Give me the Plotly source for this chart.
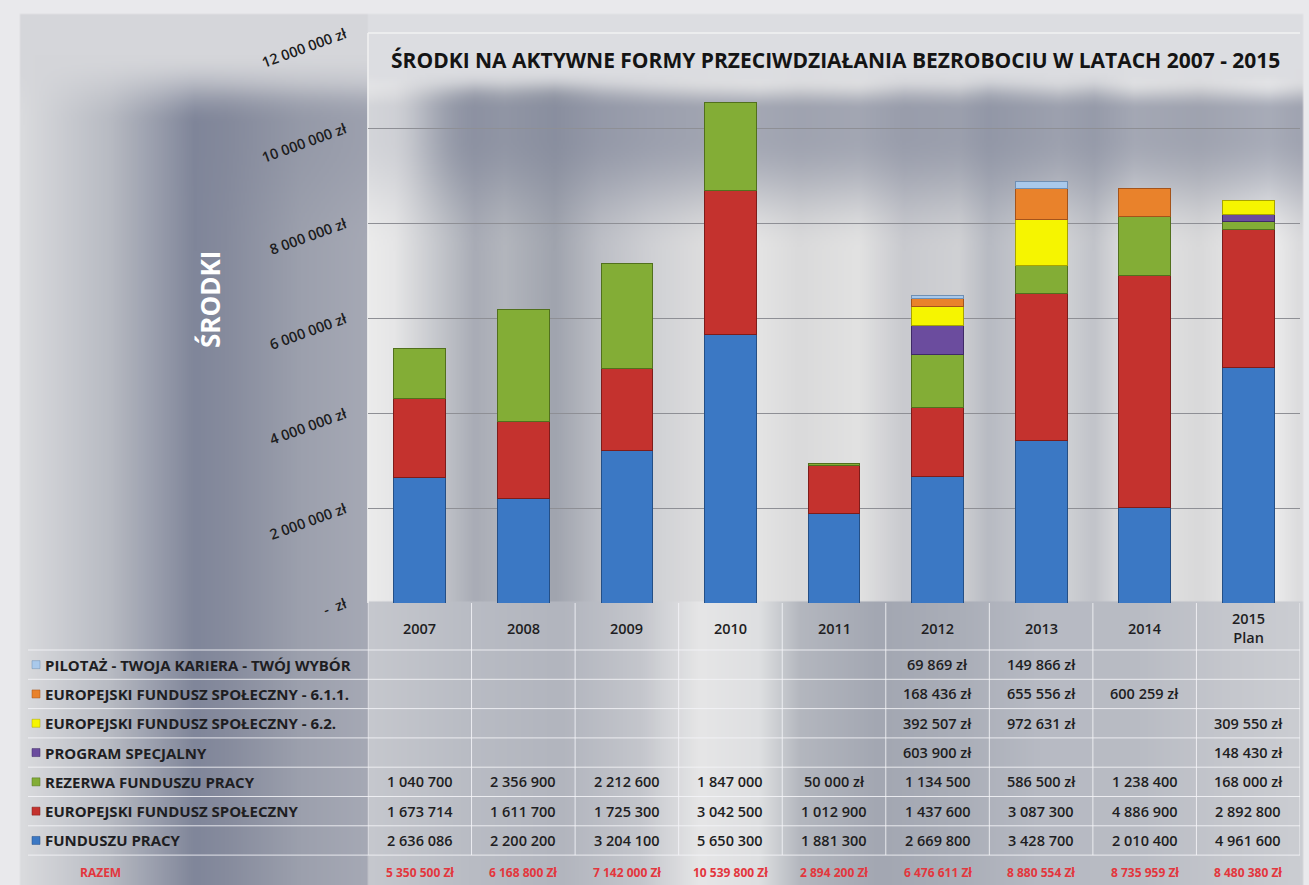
import base64
import struct
import zlib

import numpy as np
import plotly.graph_objects as go

# ---- data -------------------------------------------------------------
years = ["2007", "2008", "2009", "2010", "2011", "2012", "2013", "2014", "2015<br>Plan"]

series_names = [
    "FUNDUSZU PRACY",
    "EUROPEJSKI FUNDUSZ SPOŁECZNY",
    "REZERWA FUNDUSZU PRACY",
    "PROGRAM SPECJALNY",
    "EUROPEJSKI FUNDUSZ SPOŁECZNY - 6.2.",
    "EUROPEJSKI FUNDUSZ SPOŁECZNY - 6.1.1.",
    "PILOTAŻ - TWOJA KARIERA - TWÓJ WYBÓR",
]

fundusz_pracy = [2636086, 2200200, 3204100, 5650300, 1881300, 2669800, 3428700, 2010400, 4961600]
efs = [1673714, 1611700, 1725300, 3042500, 1012900, 1437600, 3087300, 4886900, 2892800]
rezerwa = [1040700, 2356900, 2212600, 1847000, 50000, 1134500, 586500, 1238400, 168000]
program_specjalny = [None, None, None, None, None, 603900, None, None, 148430]
efs_62 = [None, None, None, None, None, 392507, 972631, None, 309550]
efs_611 = [None, None, None, None, None, 168436, 655556, 600259, None]
pilotaz = [None, None, None, None, None, 69869, 149866, None, None]

razem = [5350500, 6168800, 7142000, 10539800, 2894200, 6476611, 8880554, 8735959, 8480380]

y_ticks = [0, 2000000, 4000000, 6000000, 8000000, 10000000, 12000000]
y_tick_text = [" -  zł", "2 000 000 zł", "4 000 000 zł", "6 000 000 zł",
               "8 000 000 zł", "10 000 000 zł", "12 000 000 zł"]

values = [fundusz_pracy, efs, rezerwa, program_specjalny, efs_62, efs_611, pilotaz]
colors = ["#3b78c4", "#c4322e", "#83ad36", "#6b4c9e", "#f6f500", "#e9822b", "#a9c9eb"]
edges = ["#244f86", "#7e1c1a", "#51701d", "#3f2a66", "#a8a400", "#a4531a", "#6f8fb3"]

# ---- layout geometry (pixels) ----------------------------------------
W, H = 1309, 885
L, R, T, B = 368, 1300, 33, 603


def px(xp):
    return (xp - L) / (R - L)


def py(yp):
    return (B - yp) / (B - T)


def fmt(v):
    return f"{v:,}".replace(",", " ")


def hexrgb(c):
    return np.array([int(c[i:i + 2], 16) for i in (1, 3, 5)], float)


def profile(stops, xs):
    sx = np.array([s[0] for s in stops], float)
    cols = np.array([hexrgb(s[1]) for s in stops])
    return np.stack([np.interp(xs, sx, cols[:, k]) for k in range(3)], axis=-1)


def smooth(a, b, v):
    t = np.clip((v - a) / (b - a), 0, 1)
    return t * t * (3 - 2 * t)


# ---- gradient backdrop, rendered into a small PNG --------------------
left_stops = [(0, "#e2e3e6"), (25, "#d9dadd"), (110, "#b8bbc3"), (195, "#80869a"),
              (225, "#868b9d"), (300, "#9ca0ad"), (368, "#a6a9b5")]
plot_stops = [(368, "#ececec"), (395, "#e6e6e7"), (455, "#b8bbc2"), (475, "#a9acb6"),
              (505, "#b3b6bd"), (555, "#a0a4ae"), (600, "#bdbfc6"), (650, "#cfd0d4"),
              (700, "#dcdcdd"), (760, "#e4e4e4"), (800, "#dadadb"), (860, "#e2e2e2"),
              (905, "#c9cacf"), (960, "#d0d1d4"), (990, "#b8bbc3"), (1060, "#d3d4d7"),
              (1095, "#c2c4ca"), (1135, "#e6e6e6"), (1200, "#d9d9da"), (1270, "#f0f0f0"),
              (1300, "#dcdcde")]
table_stops = [(368, "#c6c8ce"), (470, "#b9bcc4"), (560, "#b2b5be"), (640, "#c4c6cc"),
               (700, "#e6e6e7"), (760, "#dedfe1"), (800, "#b4b7bf"), (880, "#a3a7b2"),
               (960, "#aaaeb8"), (1040, "#b7bac3"), (1140, "#b9bcc4"), (1230, "#c5c7cd"),
               (1300, "#cbcdd2")]

S = 2
gx = (np.arange(W // S + 1) * S + S / 2)[:, None].T.repeat(H // S + 1, axis=0)
gy = (np.arange(H // S + 1) * S + S / 2)[:, None].repeat(W // S + 1, axis=1)
xs = gx[0]

img = np.zeros(gx.shape + (3,))
left = profile(left_stops, xs)
plot = profile(plot_stops, xs)
table = profile(table_stops, xs)
in_left = gx < L
in_plot = (gx >= L) & (gy < B)
img[in_left] = np.broadcast_to(left, gx.shape + (3,))[in_left]
img[in_plot] = np.broadcast_to(plot, gx.shape + (3,))[in_plot]
in_table = (gx >= L) & (gy >= B)
img[in_table] = np.broadcast_to(table, gx.shape + (3,))[in_table]

# pale upper-left corner of the side panel
light = hexrgb("#d5d6da")
t = (1 - smooth(55, 125, gy)) * in_left
img = img * (1 - t[..., None]) + light * t[..., None]

# pale strip holding the chart title
title_bg = hexrgb("#dcdde1")
t = (1 - smooth(70, 100, gy)) * (gx >= L)
img = img * (1 - t[..., None]) + title_bg * t[..., None]

# dark bluish band across the upper part
dark = hexrgb("#7c8296")
a = smooth(80, 110, gy) * (1 - smooth(135, 250, gy)) * 0.62
a = a * (0.35 + 0.65 * smooth(400, 470, gx)) * np.where(gx < L, smooth(160, 240, gx), 1)
img = img * (1 - a[..., None]) + dark * a[..., None]

# light frame around the picture
frame = hexrgb("#e9e9ec")
fmask = (gy < 14) | (gx < 20) | (gx > 1303)
img[fmask] = frame

arr = np.clip(img, 0, 255).astype(np.uint8)


def to_png(a):
    h, w, _ = a.shape
    raw = b"".join(b"\x00" + a[r].tobytes() for r in range(h))

    def chunk(tag, data):
        c = struct.pack(">I", len(data)) + tag + data
        return c + struct.pack(">I", zlib.crc32(tag + data) & 0xffffffff)

    return (b"\x89PNG\r\n\x1a\n" + chunk(b"IHDR", struct.pack(">IIBBBBB", w, h, 8, 2, 0, 0, 0))
            + chunk(b"IDAT", zlib.compress(raw, 9)) + chunk(b"IEND", b""))


backdrop = "data:image/png;base64," + base64.b64encode(to_png(arr)).decode()

# ---- bars --------------------------------------------------------------
fig = go.Figure()
for name, vals, col, edge in zip(series_names, values, colors, edges):
    fig.add_trace(go.Bar(
        x=list(range(len(years))), y=vals, name=name,
        marker=dict(color=col, line=dict(color=edge, width=1)),
        width=0.5,
    ))

shapes = []
annotations = []

# plot-area outline
shapes.append(dict(type="line", xref="paper", yref="paper", layer="below",
                   x0=0, x1=0, y0=py(B), y1=py(T), line=dict(color="#f2f2f2", width=1.5)))
shapes.append(dict(type="line", xref="paper", yref="paper", layer="below",
                   x0=0, x1=1, y0=py(T), y1=py(T), line=dict(color="#f2f2f2", width=1.5)))

# ---- data table under the chart --------------------------------------
row_h = 29.3
rows_top = 650
n_rows = len(series_names)
table_bottom = rows_top + n_rows * row_h
rule = "rgba(245,245,248,0.85)"

for k in range(n_rows + 1):
    yl = rows_top + k * row_h
    shapes.append(dict(type="line", xref="paper", yref="paper",
                       x0=px(28), x1=px(R), y0=py(yl), y1=py(yl), line=dict(color=rule, width=1)))
for k in range(len(years) + 1):
    xl = k - 0.5
    shapes.append(dict(type="line", xref="x", yref="paper",
                       x0=xl, x1=xl, y0=py(table_bottom), y1=py(B), line=dict(color=rule, width=1)))

FONT = "Open Sans, Arial, sans-serif"
label_font = dict(family=FONT, size=15, color="#1e1e22", weight=700)
num_font = dict(family=FONT, size=14.5, color="#1e1e22", weight=600)

for i, yr in enumerate(years):
    annotations.append(dict(x=i, y=py(628), xref="x", yref="paper", text=yr,
                            showarrow=False, xanchor="center", yanchor="middle",
                            font=dict(family=FONT, size=14.5, color="#1e1e22", weight=600)))

# top row of the table is the last series in the stack
for r, idx in enumerate(range(n_rows - 1, -1, -1)):
    yc = rows_top + (r + 0.5) * row_h
    shapes.append(dict(type="rect", xref="paper", yref="paper",
                       x0=px(32), x1=px(40), y0=py(yc + 4), y1=py(yc - 4),
                       fillcolor=colors[idx], line=dict(color=edges[idx], width=0.5)))
    annotations.append(dict(x=px(43), y=py(yc), xref="paper", yref="paper",
                            text=series_names[idx], showarrow=False,
                            xanchor="left", yanchor="middle", font=label_font))
    for i, v in enumerate(values[idx]):
        if v is None:
            continue
        txt = fmt(v) + (" zł" if v < 1000000 else "")
        annotations.append(dict(x=i, y=py(yc), xref="x", yref="paper", text=txt,
                                showarrow=False, xanchor="center", yanchor="middle",
                                font=num_font))

red_font = dict(family=FONT, size=12, color="#e3363d", weight=700)
annotations.append(dict(x=px(100), y=py(872), xref="paper", yref="paper", text="RAZEM",
                        showarrow=False, xanchor="center", yanchor="middle", font=red_font))
for i, v in enumerate(razem):
    annotations.append(dict(x=i, y=py(872), xref="x", yref="paper",
                            text=fmt(v) + " Zł", showarrow=False,
                            xanchor="center", yanchor="middle", font=red_font))

annotations.append(dict(x=px(210), y=py(300), xref="paper", yref="paper", text="<b>ŚRODKI</b>",
                        showarrow=False, textangle=-90, xanchor="center", yanchor="middle",
                        font=dict(family=FONT, size=26, color="#ffffff")))

annotations.append(dict(x=px(835), y=py(60), xref="paper", yref="paper",
                        text="<b>ŚRODKI NA AKTYWNE FORMY PRZECIWDZIAŁANIA BEZROBOCIU W LATACH 2007 - 2015</b>",
                        showarrow=False, xanchor="center", yanchor="middle",
                        font=dict(family=FONT, size=21, color="#141414")))

fig.update_layout(
    width=W, height=H,
    margin=dict(l=L, r=W - R, t=T, b=H - B),
    barmode="stack",
    showlegend=False,
    paper_bgcolor="#e6e7ea",
    plot_bgcolor="rgba(0,0,0,0)",
    images=[dict(source=backdrop, xref="paper", yref="paper", x=px(0), y=py(0),
                 sizex=px(W) - px(0), sizey=py(0) - py(H), sizing="stretch",
                 xanchor="left", yanchor="top", layer="below")],
    shapes=shapes,
    annotations=annotations,
    xaxis=dict(range=[-0.5, len(years) - 0.5], showticklabels=False, showgrid=False,
               zeroline=False, showline=False, ticks=""),
    yaxis=dict(range=[0, 12000000], tickvals=y_ticks, ticktext=y_tick_text,
               tickangle=-20, ticklabelstandoff=22,
               tickfont=dict(family=FONT, size=14.5, color="#1c1c20", weight=600),
               showgrid=True, gridcolor="#8e8f95", gridwidth=1, zeroline=False,
               showline=False),
)

fig.write_html("out.html")
